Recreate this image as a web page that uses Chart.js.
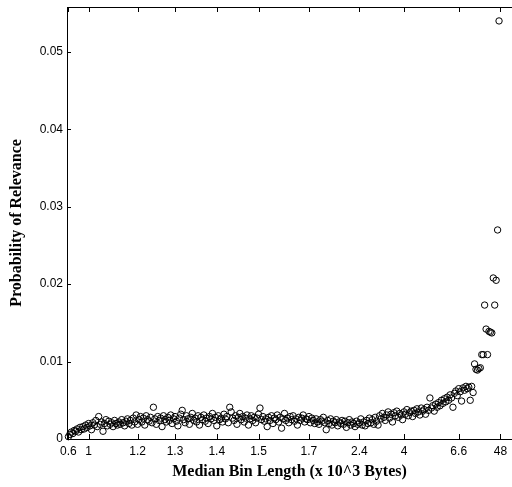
<!DOCTYPE html>
<html>
<head>
<meta charset="utf-8">
<script src="https://cdn.jsdelivr.net/npm/chart.js@4/dist/chart.umd.min.js"></script>
<style>
  html, body { margin: 0; padding: 0; background: #fff; }
  #wrap { width: 512px; height: 487px; position: relative; }
</style>
</head>
<body>
<div id="wrap"><canvas id="myChart"></canvas></div>
<script>
// tick positions are bin indices, labels are the median bin length
var xTickPos = [1, 15, 49, 75, 104, 133, 168, 203, 234, 272, 301];
var xTickLabels = ['0.6', '1', '1.2', '1.3', '1.4', '1.5', '1.7', '2.4', '4', '6.6', '48'];
var yTicks = [0, 0.01, 0.02, 0.03, 0.04, 0.05];
var yTickLabels = ['0', '0.01', '0.02', '0.03', '0.04', '0.05'];

// probability of relevance per bin (bins 1..300)
var relevance = [
  0.0003, 0.0006, 0.0009, 0.0007, 0.0011, 0.0010, 0.0013, 0.0009, 0.0015, 0.0012,
  0.0016, 0.0013, 0.0018, 0.0015, 0.0020, 0.0017, 0.0012, 0.0021, 0.0018, 0.0024,
  0.0016, 0.0029, 0.0019, 0.0022, 0.0010, 0.0020, 0.0025, 0.0017, 0.0023, 0.0019,
  0.0021, 0.0016, 0.0024, 0.0020, 0.0018, 0.0022, 0.0019, 0.0025, 0.0021, 0.0017,
  0.0023, 0.0026, 0.0020, 0.0024, 0.0018, 0.0027, 0.0022, 0.0031, 0.0019, 0.0025,
  0.0029, 0.0022, 0.0027, 0.0018, 0.0030, 0.0025, 0.0023, 0.0028, 0.0021, 0.0041,
  0.0026, 0.0019, 0.0029, 0.0024, 0.0027, 0.0016, 0.0030, 0.0025, 0.0022, 0.0028,
  0.0024, 0.0031, 0.0020, 0.0026, 0.0029, 0.0023, 0.0017, 0.0027, 0.0032, 0.0037,
  0.0025, 0.0021, 0.0030, 0.0026, 0.0019, 0.0028, 0.0033, 0.0024, 0.0027, 0.0022,
  0.0030, 0.0018, 0.0028, 0.0025, 0.0031, 0.0023, 0.0027, 0.0020, 0.0029, 0.0026,
  0.0033, 0.0024, 0.0028, 0.0017, 0.0030, 0.0025, 0.0027, 0.0022, 0.0032, 0.0026,
  0.0029, 0.0021, 0.0041, 0.0035, 0.0027, 0.0024, 0.0030, 0.0019, 0.0028, 0.0033,
  0.0025, 0.0029, 0.0022, 0.0027, 0.0031, 0.0018, 0.0026, 0.0030, 0.0024, 0.0028,
  0.0021, 0.0027, 0.0032, 0.0040, 0.0025, 0.0029, 0.0023, 0.0026, 0.0016, 0.0028,
  0.0024, 0.0030, 0.0020, 0.0027, 0.0025, 0.0031, 0.0022, 0.0028, 0.0014, 0.0026,
  0.0033, 0.0024, 0.0027, 0.0021, 0.0029, 0.0025, 0.0030, 0.0023, 0.0026, 0.0018,
  0.0028, 0.0024, 0.0027, 0.0031, 0.0022, 0.0026, 0.0025, 0.0029, 0.0021, 0.0027,
  0.0024, 0.0020, 0.0026, 0.0022, 0.0019, 0.0025, 0.0023, 0.0028, 0.0021, 0.0012,
  0.0024, 0.0020, 0.0026, 0.0018, 0.0023, 0.0021, 0.0025, 0.0017, 0.0022, 0.0020,
  0.0024, 0.0019, 0.0023, 0.0015, 0.0021, 0.0025, 0.0018, 0.0022, 0.0020, 0.0016,
  0.0023, 0.0019, 0.0021, 0.0026, 0.0018, 0.0022, 0.0017, 0.0024, 0.0020, 0.0027,
  0.0021, 0.0025, 0.0019, 0.0028, 0.0023, 0.0018, 0.0030, 0.0026, 0.0033, 0.0028,
  0.0024, 0.0031, 0.0035, 0.0027, 0.0032, 0.0022, 0.0034, 0.0030, 0.0036, 0.0028,
  0.0033, 0.0031, 0.0025, 0.0035, 0.0032, 0.0038, 0.0030, 0.0034, 0.0036, 0.0029,
  0.0037, 0.0033, 0.0039, 0.0035, 0.0031, 0.0040, 0.0036, 0.0038, 0.0032, 0.0041,
  0.0037, 0.0053, 0.0040, 0.0043, 0.0036, 0.0045, 0.0041, 0.0047, 0.0043, 0.0050,
  0.0046, 0.0052, 0.0048, 0.0054, 0.0050, 0.0057, 0.0053, 0.0041, 0.0059, 0.0062,
  0.0056, 0.0065, 0.0061, 0.0049, 0.0066, 0.0063, 0.0068, 0.0065, 0.0067, 0.0050,
  0.0068, 0.0060, 0.0097, 0.0090, 0.0089, 0.0091, 0.0092, 0.0109, 0.0109, 0.0173,
  0.0142, 0.0109, 0.0139, 0.0138, 0.0137, 0.0208, 0.0173, 0.0205, 0.0270, 0.0540
];

var points = relevance.map(function (v, k) { return { x: k + 1, y: v }; });

// box on top + inward tick marks, like the original figure
var frameTicks = {
  id: 'frameTicks',
  afterDraw: function (chart) {
    var ctx = chart.ctx;
    var a = chart.chartArea;
    var xs = chart.scales.x, ys = chart.scales.y;
    ctx.save();
    ctx.strokeStyle = '#000';
    ctx.lineWidth = 1;
    ctx.beginPath();
    ctx.moveTo(a.left, a.top + 0.5);
    ctx.lineTo(a.right, a.top + 0.5);
    xs.ticks.forEach(function (t) {
      var px = Math.round(xs.getPixelForValue(t.value)) + 0.5;
      ctx.moveTo(px, a.bottom);
      ctx.lineTo(px, a.bottom - 5);
      ctx.moveTo(px, a.top);
      ctx.lineTo(px, a.top + 5);
    });
    ys.ticks.forEach(function (t) {
      var py = Math.round(ys.getPixelForValue(t.value)) + 0.5;
      ctx.moveTo(a.left, py);
      ctx.lineTo(a.left + 4, py);
    });
    ctx.stroke();
    ctx.restore();
  }
};

var ctx = document.getElementById('myChart').getContext('2d');
new Chart(ctx, {
  type: 'scatter',
  data: {
    datasets: [{
      label: 'Probability of Relevance',
      data: points,
      pointStyle: 'circle',
      pointRadius: 3.2,
      borderWidth: 1,
      borderColor: '#000',
      backgroundColor: 'rgba(0,0,0,0)',
      clip: false
    }]
  },
  options: {
    animation: false,
    responsive: true,
    maintainAspectRatio: false,
    layout: { autoPadding: false, padding: { top: 7, left: 0, right: 0, bottom: 0 } },
    plugins: { legend: { display: false }, tooltip: { enabled: false } },
    scales: {
      x: {
        type: 'linear',
        min: 0,
        max: 309,
        afterFit: function (s) { s.height = 48; s.paddingLeft = 0; s.paddingRight = 0; },
        afterBuildTicks: function (s) { s.ticks = xTickPos.map(function (v) { return { value: v }; }); },
        grid: { drawOnChartArea: false, drawTicks: false },
        border: { display: true, color: '#000', width: 1 },
        ticks: {
          color: '#000',
          padding: 5,
          maxRotation: 0,
          autoSkip: false,
          font: { family: 'Liberation Sans', size: 12 },
          callback: function (v) { var i = xTickPos.indexOf(v); return i >= 0 ? xTickLabels[i] : ''; }
        },
        title: {
          display: true,
          text: 'Median Bin Length (x 10^3 Bytes)',
          color: '#000',
          font: { family: 'Liberation Serif', size: 16, weight: 'bold' },
          padding: { top: 0, bottom: 6 }
        }
      },
      y: {
        min: 0,
        max: 0.0558,
        afterFit: function (s) { s.width = 67; s.paddingTop = 0; s.paddingBottom = 0; },
        afterBuildTicks: function (s) { s.ticks = yTicks.map(function (v) { return { value: v }; }); },
        grid: { drawOnChartArea: false, drawTicks: false },
        border: { display: true, color: '#000', width: 1 },
        ticks: {
          color: '#000',
          padding: 4,
          font: { family: 'Liberation Sans', size: 12 },
          callback: function (v) { var i = yTicks.indexOf(v); return i >= 0 ? yTickLabels[i] : ''; }
        },
        title: {
          display: true,
          text: 'Probability of Relevance',
          color: '#000',
          font: { family: 'Liberation Serif', size: 16, weight: 'bold' },
          padding: { top: 7, bottom: 0 }
        }
      }
    }
  },
  plugins: [frameTicks]
});
</script>
</body>
</html>
